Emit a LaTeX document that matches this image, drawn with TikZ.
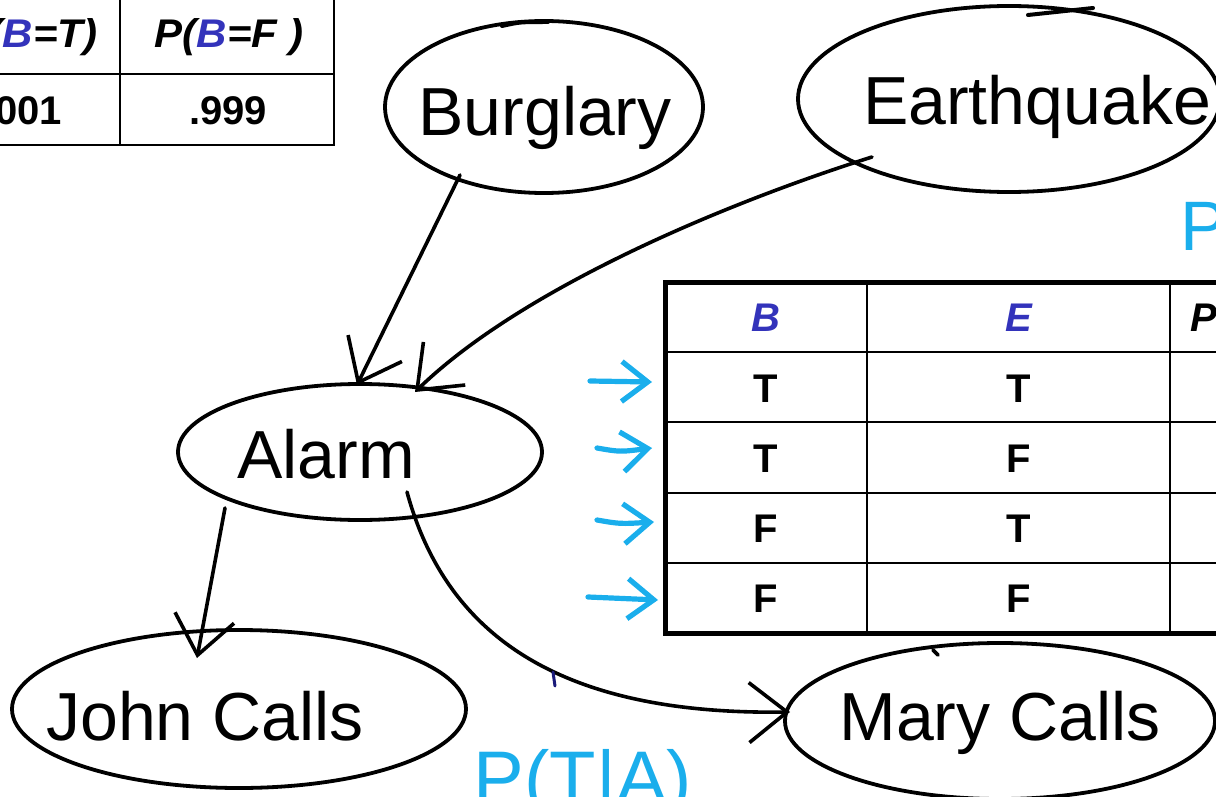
\documentclass[tikz,border=0pt]{standalone}
\usepackage{fontspec}
\setmainfont{Liberation Sans}
\usetikzlibrary{shapes.geometric,arrows.meta}
\definecolor{inkblue}{HTML}{3333BB}
\definecolor{pen}{HTML}{1AAEEC}
\definecolor{navy}{HTML}{1A1A7A}
\begin{document}
\begin{tikzpicture}[x=0.5pt,y=-0.5pt,
  bnode/.style={draw, ellipse, line width=1.9pt, inner sep=0pt},
  handtext/.style={font=\fontsize{34}{40}\selectfont, inner sep=0pt, anchor=base},
  link/.style={line width=1.8pt, line cap=round,
    -{Straight Barb[length=19pt,width=30pt,line width=1.8pt]}},
  penarrow/.style={pen, line width=2.6pt, line cap=round,
    -{Straight Barb[length=13pt,width=20pt,line width=2.6pt]}},
  thinrule/.style={line width=1.1pt},
  thickrule/.style={line width=2.5pt},
  hdr/.style={font=\fontsize{20}{24}\selectfont\bfseries\itshape, inner sep=0pt},
  val/.style={font=\fontsize{20}{24}\selectfont\bfseries, inner sep=0pt},
]
\useasboundingbox (0,0) rectangle (1216,797);
\clip (0,0) rectangle (1216,797);

% prior table for Burglary
\draw[thinrule] (120,-5) -- (120,145);
\draw[thinrule] (334,-5) -- (334,146);
\draw[thinrule] (-5,74) -- (334,74);
\draw[line width=1.4pt] (-5,145) -- (334,145);
\node[hdr] (pbt) at (29,37) {\scalebox{1.05}[1]{P(\textcolor{inkblue}{B}=T)}};
\node[hdr] (pbf) at (229,37) {\scalebox{1.05}[1]{P(\textcolor{inkblue}{B}=F )}};
\node[val] (vbt) at (23,111) {.001};
\node[val] (vbf) at (228,111) {.999};

% conditional table for Alarm
\foreach \y in {352,422,493,563} \draw[thinrule] (665,\y) -- (1230,\y);
\foreach \x in {867,1170} \draw[thinrule] (\x,282) -- (\x,633);
\draw[thickrule] (1230,282) -- (665,282) -- (665,633) -- (1230,633);
\node[hdr, text=inkblue] (hb) at (766,318) {B};
\node[hdr, text=inkblue] (he) at (1019,318) {E};
\node[hdr, anchor=west] (hp) at (1190,318) {P};
\node[val] (b1) at (766,389) {T};  \node[val] (e1) at (1019,389) {T};
\node[val] (b2) at (766,459) {T};  \node[val] (e2) at (1019,459) {F};
\node[val] (b3) at (766,529) {F};  \node[val] (e3) at (1019,529) {T};
\node[val] (b4) at (766,599) {F};  \node[val] (e4) at (1019,599) {F};

% network nodes
\node[bnode, minimum width=159pt, minimum height=86pt] (burg) at (544,107) {};
\node[handtext] (burgtxt) at (545,135) {Burglary};
\node[bnode, minimum width=211pt, minimum height=93pt] (quake) at (1009,99) {};
\node[handtext] (quaketxt) at (1037,125) {Earthquake};
\node[bnode, minimum width=182pt, minimum height=68pt] (alarm) at (360,452) {};
\node[handtext] (alarmtxt) at (326,478) {Alarm};
\node[bnode, minimum width=227pt, minimum height=79pt] (john) at (239,709) {};
\node[handtext] (johntxt) at (205,740) {John Calls};
\node[bnode, minimum width=215pt, minimum height=78pt] (mary) at (1000,721) {};
\node[handtext] (marytxt) at (1000,740) {Mary Calls};

% overlapping pen strokes on the ellipse outlines
\draw[line width=2pt, line cap=round] (502,26) .. controls (520,22) .. (548,22);
\draw[line width=2pt, line cap=round] (1028,15) -- (1093,8);
\draw[line width=1.8pt, line cap=round] (933,650) -- (938,655);

% edges of the network
\draw[link] ([shift={(-84,68)}]burg.center) -- ([shift={(-3,-67)}]alarm.center);
\draw[link] ([shift={(-137,58)}]quake.center)
  .. controls (720,205) and (520,290) .. ([shift={(55,-60)}]alarm.center);
\draw[link] ([shift={(-135,56)}]alarm.center) -- ([shift={(-42,-51)}]john.center);
\draw[link] ([shift={(47,40)}]alarm.center)
  .. controls (450,650) and (580,715) .. ([shift={(-210,-9)}]mary.center);

% pen arrows pointing at the table rows
\coordinate (s1) at (590,381);  \coordinate (t1) at (652,382);
\coordinate (s2) at (597,448);  \coordinate (t2) at (652,448);
\coordinate (s3) at (597,520);  \coordinate (t3) at (654,522);
\coordinate (s4) at (588,597);  \coordinate (t4) at (658,600);
\draw[penarrow] (s1) -- (t1);
\draw[penarrow] (s2) .. controls (620,452) .. (t2);
\draw[penarrow] (s3) .. controls (620,524) .. (t3);
\draw[penarrow] (s4) -- (t4);

% pen annotations
\node[font=\fontsize{38}{44}\selectfont, text=pen, inner sep=0pt, anchor=base] (pta) at (583,804) {P(T|A)};
\node[font=\fontsize{35}{40}\selectfont, text=pen, inner sep=0pt, anchor=base west] (pq) at (1180,250) {P};
\draw[navy, line width=1.5pt, line cap=round] (553,672) -- (555,686);
\end{tikzpicture}
\end{document}
